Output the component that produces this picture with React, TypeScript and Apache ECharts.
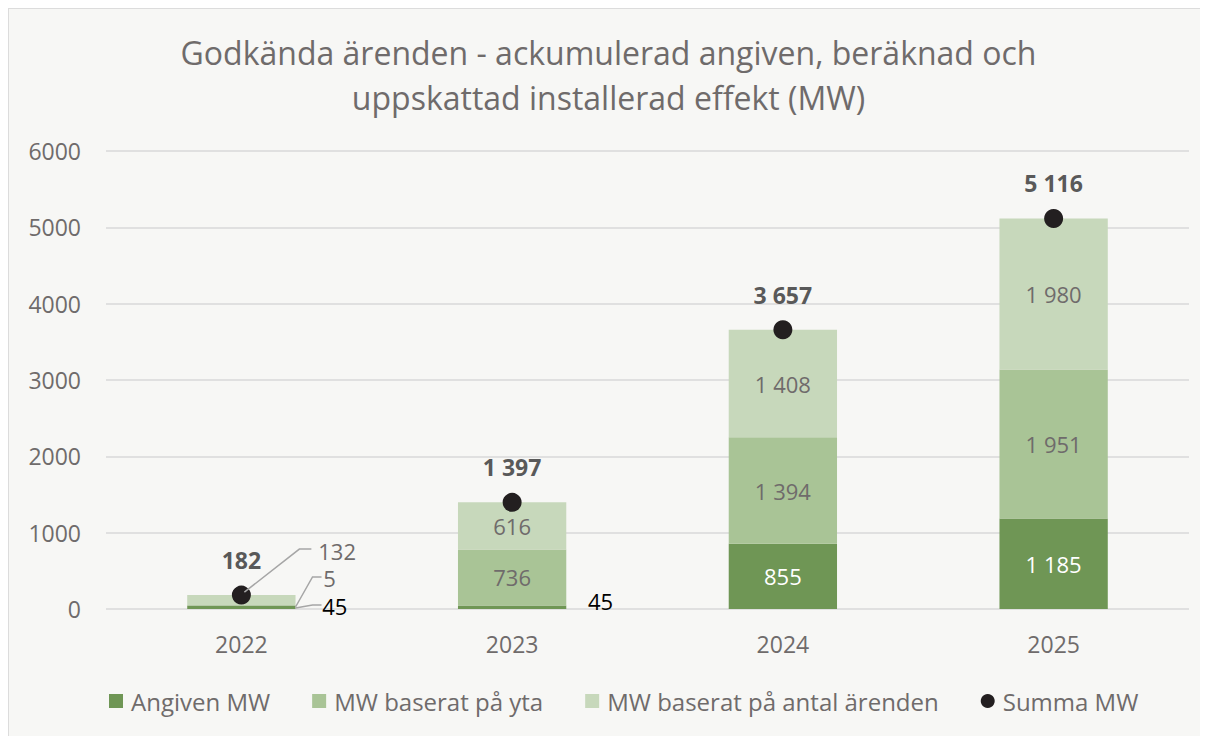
import React, { useEffect, useRef } from "react";
import * as echarts from "echarts";

const categories = ["2022", "2023", "2024", "2025"];
const angiven = [45, 45, 855, 1185];
const yta = [5, 736, 1394, 1951];
const antal = [132, 616, 1408, 1980];
const summa = [182, 1397, 3657, 5116];
const yTicks = [0, 1000, 2000, 3000, 4000, 5000, 6000];

const FONT = "'Open Sans', 'Noto Sans', sans-serif";
const GRAY = "#6f6b6b";
const DARK = "#595959";
const C_ANG = "#6f9655";
const C_YTA = "#a9c496";
const C_ANT = "#c7d8bb";

const fmt = (v: number) => String(v).replace(/\B(?=(\d{3})+(?!\d))/g, " ");

export default function App() {
  const ref = useRef<HTMLDivElement>(null);
  useEffect(() => {
    if (!ref.current) return;
    const chart = echarts.init(ref.current, undefined, { renderer: "svg" });
    const insideLabel = (color: string) => ({
      show: true,
      position: "inside",
      color,
      fontSize: 22,
      fontFamily: FONT,
      formatter: (p: any) => fmt(p.value),
    });
    const option: any = {
      animation: false,
      backgroundColor: "#f7f7f5",
      title: {
        text: "Godkända ärenden - ackumulerad angiven, beräknad och\nuppskattad installerad effekt (MW)",
        left: "center",
        top: 16,
        textStyle: {
          color: GRAY,
          fontSize: 32,
          fontWeight: "normal",
          fontFamily: FONT,
          lineHeight: 45,
        },
      },
      grid: { left: 97, right: 19, top: 142, bottom: 127 },
      legend: {
        bottom: 18,
        left: 95,
        itemWidth: 14,
        itemHeight: 14,
        itemGap: 42,
        textStyle: { color: GRAY, fontSize: 24, fontFamily: FONT, padding: [0, 0, 0, 3] },
        data: [
          { name: "Angiven MW", icon: "rect" },
          { name: "MW baserat på yta", icon: "rect" },
          { name: "MW baserat på antal ärenden", icon: "rect" },
          { name: "Summa MW", icon: "circle" },
        ],
      },
      xAxis: {
        type: "category",
        data: categories,
        axisLine: { show: false },
        axisTick: { show: false },
        axisLabel: { color: GRAY, fontSize: 23, fontFamily: FONT, margin: 23 },
      },
      yAxis: {
        type: "value",
        min: yTicks[0],
        max: yTicks[yTicks.length - 1],
        interval: 1000,
        axisLabel: {
          color: GRAY,
          fontSize: 23,
          fontFamily: FONT,
          margin: 25,
          formatter: (v: number) => String(v),
        },
        splitLine: { lineStyle: { color: "#d9d9d9", width: 1.5 } },
      },
      series: [
        {
          name: "Angiven MW",
          type: "bar",
          stack: "s",
          barWidth: "40%",
          itemStyle: { color: C_ANG },
          label: insideLabel("#ffffff"),
          data: angiven.map((v, i) => {
            if (i === 0)
              return {
                value: v,
                label: { position: [135, 0], align: "left", verticalAlign: "middle", color: "#000000" },
              };
            if (i === 1)
              return {
                value: v,
                label: { position: [130, -5], align: "left", verticalAlign: "middle", color: "#000000" },
              };
            return v;
          }),
        },
        {
          name: "MW baserat på yta",
          type: "bar",
          stack: "s",
          itemStyle: { color: C_YTA },
          label: insideLabel(GRAY),
          data: yta.map((v, i) =>
            i === 0
              ? { value: v, label: { position: [136, -27], align: "left", verticalAlign: "middle", color: GRAY } }
              : v
          ),
        },
        {
          name: "MW baserat på antal ärenden",
          type: "bar",
          stack: "s",
          itemStyle: { color: C_ANT },
          label: insideLabel(GRAY),
          data: antal.map((v, i) =>
            i === 0
              ? { value: v, label: { position: [131, -44], align: "left", verticalAlign: "middle", color: GRAY } }
              : v
          ),
        },
        {
          name: "Summa MW",
          type: "scatter",
          symbol: "circle",
          symbolSize: 19,
          itemStyle: { color: "#231f20", opacity: 1 },
          label: {
            show: true,
            position: "top",
            distance: 14,
            color: DARK,
            fontSize: 23,
            fontWeight: "bold",
            fontFamily: FONT,
            formatter: (p: any) => fmt(p.value),
          },
          data: summa,
          z: 5,
        },
      ],
    };
    chart.setOption(option);

    const p0 = chart.convertToPixel({ gridIndex: 0 } as any, [categories[0], summa[0]]) as number[];
    const base = chart.convertToPixel({ gridIndex: 0 } as any, [categories[0], 0]) as number[];
    const halfBar = ((chart.convertToPixel({ gridIndex: 0 } as any, [categories[1], 0]) as number[])[0] - base[0]) * 0.2;
    const right = base[0] + halfBar;
    const lineStyle = { stroke: "#a6a6a6", lineWidth: 1.5, fill: "none" };
    chart.setOption({
      graphic: [
        {
          type: "polyline",
          silent: true,
          shape: { points: [[p0[0] + 3, p0[1] - 3], [p0[0] + 58, p0[1] - 46], [p0[0] + 70, p0[1] - 46]] },
          style: lineStyle,
          z: 10,
        },
        {
          type: "polyline",
          silent: true,
          shape: { points: [[right, base[1] - 2], [right + 17, base[1] - 32], [right + 26, base[1] - 32]] },
          style: lineStyle,
          z: 10,
        },
        {
          type: "polyline",
          silent: true,
          shape: { points: [[right, base[1] - 1], [right + 17, base[1] - 4], [right + 26, base[1] - 4]] },
          style: lineStyle,
          z: 10,
        },
      ],
    });

    return () => chart.dispose();
  }, []);
  return (
    <div
      ref={ref}
      style={{
        width: 1200,
        height: 728,
        boxSizing: "border-box",
        borderLeft: "1px solid #dcdcdc",
        borderTop: "1px solid #dcdcdc",
      }}
    />
  );
}
